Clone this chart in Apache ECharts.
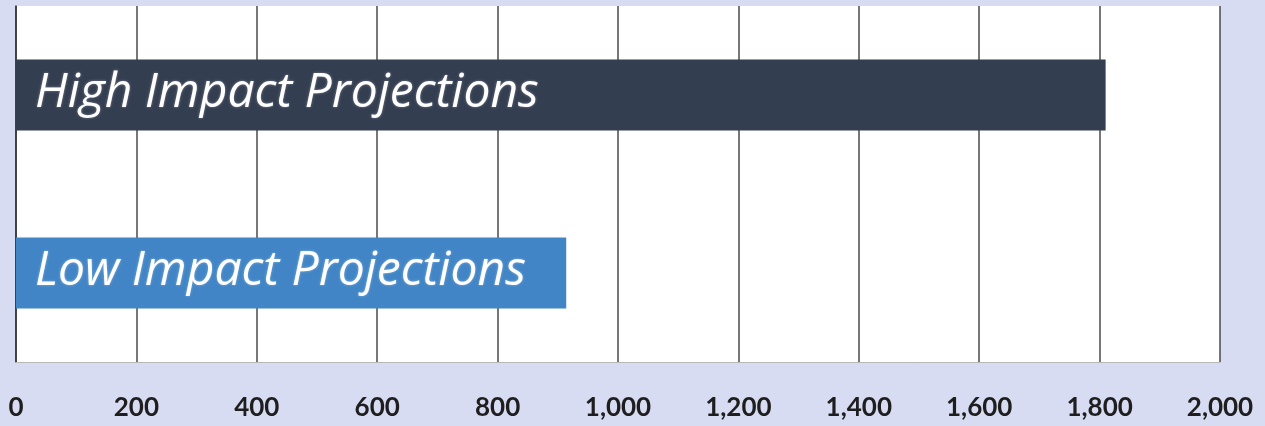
<!DOCTYPE html>
<html>
<head>
<meta charset="utf-8">
<script src="https://cdn.jsdelivr.net/npm/echarts@6/dist/echarts.min.js"></script>
<style>
  html, body { margin: 0; padding: 0; background: #d8dcf3; }
  #main { width: 1265px; height: 426px; }
</style>
</head>
<body>
<div id="main"></div>
<script>
// data, bottom category first
const categories = ['Low Impact Projections', 'High Impact Projections'];
const values = [914, 1810];
const barColors = ['#4185c6', '#343e51'];
const tickMin = 0;
const tickMax = 2000;
const tickStep = 200;

const chart = echarts.init(document.getElementById('main'));

chart.setOption({
  backgroundColor: '#d8dcf3',
  animation: false,
  grid: {
    left: 16, right: 45, top: 6, bottom: 64,
    show: true, backgroundColor: '#ffffff', borderWidth: 0
  },
  xAxis: {
    type: 'value',
    min: tickMin, max: tickMax, interval: tickStep,
    axisLine: { show: true, lineStyle: { color: '#b8b8b8', width: 1 } },
    axisTick: { show: false },
    splitLine: { show: true, lineStyle: { color: '#4a4a4a', width: 1.5 } },
    axisLabel: {
      margin: 33,
      color: '#1e1e1e',
      fontFamily: 'Lato',
      fontWeight: 'bold',
      fontSize: 26,
      formatter: v => v.toLocaleString('en-US')
    }
  },
  yAxis: {
    type: 'category',
    data: categories,
    axisLine: { show: true, lineStyle: { color: '#333', width: 1.5 } },
    axisTick: { show: false },
    axisLabel: { show: false }
  },
  series: [{
    type: 'bar',
    barCategoryGap: '60%',
    data: values.map((v, i) => ({ value: v, itemStyle: { color: barColors[i] } })),
    label: {
      show: true,
      position: 'insideLeft',
      distance: 19,
      offset: [0, -2],
      formatter: '{b}',
      color: '#ffffff',
      fontFamily: 'Open Sans',
      fontStyle: 'italic',
      fontSize: 48,
      textShadowColor: 'rgba(255,255,255,0.35)',
      textShadowBlur: 3
    }
  }]
});
</script>
</body>
</html>
